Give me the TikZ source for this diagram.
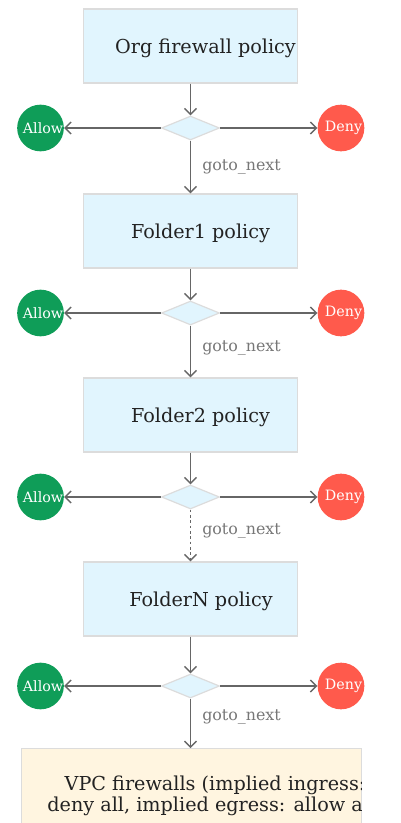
\documentclass[tikz,border=0pt]{standalone}
\usepackage{fontspec}
\setmainfont{DejaVu Serif}
\usetikzlibrary{shapes.geometric,arrows.meta}
\definecolor{boxfill}{HTML}{E1F5FE}
\definecolor{boxline}{HTML}{DCDCDC}
\definecolor{vpcfill}{HTML}{FFF5E0}
\definecolor{allowc}{HTML}{0F9D58}
\definecolor{denyc}{HTML}{FF5A4C}
\definecolor{arrowc}{HTML}{666666}
\definecolor{labelc}{HTML}{777777}
\definecolor{textc}{HTML}{222222}
\begin{document}
\begin{tikzpicture}[x=0.75pt,y=-0.75pt,
  policybox/.style={draw=boxline, line width=0.9pt, fill=boxfill},
  vpcbox/.style={draw=boxline, line width=0.9pt, fill=vpcfill},
  boxtext/.style={text=textc, font=\fontsize{14.4}{16}\selectfont, inner sep=0pt},
  decide/.style={diamond, draw=boxline, line width=0.9pt, fill=boxfill, minimum width=43.5pt, minimum height=18pt, aspect=2.4, inner sep=0pt},
  allownode/.style={circle, fill=allowc, minimum size=35pt, inner sep=0pt},
  denynode/.style={circle, fill=denyc, minimum size=35pt, inner sep=0pt},
  circtext/.style={text=white, font=\fontsize{10.7}{12}\selectfont, inner sep=0pt},
  flow/.style={draw=arrowc, line width=1.05pt, -{Straight Barb[length=4.5pt,width=9pt]}},
  gotolabel/.style={text=labelc, font=\fontsize{11.9}{14}\selectfont, inner sep=0pt, anchor=base west}
]
\useasboundingbox (0,0) rectangle (400,823);
% policy boxes
\foreach \n/\t/\b/\txt/\tx in {org/9/83/Org firewall policy/205.5, f1/194/268/Folder1 policy/200.5, f2/378/452/Folder2 policy/200.5, fn/562/636/FolderN policy/201}{
  \node[policybox, minimum width=160pt, minimum height=55.5pt, inner sep=0pt] (\n) at (190.5,{(\t+\b)/2}) {};
  \begin{scope}
    \clip (84,\t) rectangle (297,\b);
    \node[boxtext] (\n t) at (\tx,{(\t+\b)/2+2}) {\txt};
  \end{scope}
}
% VPC box
\node[vpcbox, minimum width=255pt, minimum height=60pt, inner sep=0pt, anchor=north west] (vpc) at (21,748) {};
\begin{scope}
  \clip (21,748) rectangle (361,823);
  \node[boxtext, align=center, font=\fontsize{14.4}{15.8}\selectfont] (vpct) at (215,796) {VPC firewalls (implied ingress:\\deny all, implied egress: allow all)};
\end{scope}
% decisions
\foreach \d/\y in {d1/128, d2/313, d3/497, d4/686}{
  \node[decide] (\d) at (190.5,\y) {};
  \node[allownode] (\d a) at (40.5,\y) {};
  \node[circtext] at (43,\y) {Allow};
  \node[denynode] (\d d) at (341,\y) {};
  \node[circtext] at (343.5,\y) {Deny};
  \draw[flow] (\d.west) -- (\d a.east);
  \draw[flow] (\d.east) -- (\d d.west);
}
\draw[flow] (org.south) -- (d1.north);
\draw[flow] (f1.south) -- (d2.north);
\draw[flow] (f2.south) -- (d3.north);
\draw[flow] (fn.south) -- (d4.north);
\draw[flow] (d1.south) -- (f1.north);
\draw[flow] (d2.south) -- (f2.north);
\draw[flow, dash pattern=on 2pt off 2pt] (d3.south) -- (fn.north);
\draw[flow] (d4.south) -- (vpc.north -| d4);
\node[gotolabel] at (202,170.5) {goto\_next};
\node[gotolabel] at (202,351.5) {goto\_next};
\node[gotolabel] at (202,534.5) {goto\_next};
\node[gotolabel] at (202,720.5) {goto\_next};
\end{tikzpicture}
\end{document}
